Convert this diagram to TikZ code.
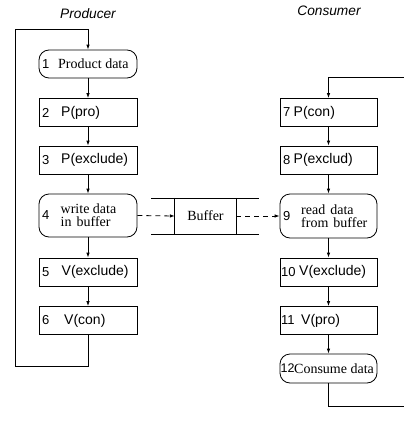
\documentclass[tikz,border=0pt]{standalone}
\usepackage{fontspec}
\setmainfont{Liberation Serif}
\setsansfont{Liberation Sans}
\usetikzlibrary{arrows.meta}
\begin{document}
\begin{tikzpicture}[x=1pt,y=-1pt,
  box/.style={draw,line width=0.8pt,minimum width=98pt,minimum height=28pt,inner sep=0},
  rbox/.style={box,rounded corners=10pt},
  num/.style={anchor=west,inner sep=0,font=\sffamily\fontsize{13}{14}\selectfont},
  stxt/.style={anchor=west,inner sep=0,font=\sffamily\fontsize{14}{14}\selectfont},
  rtxt/.style={anchor=west,inner sep=0,font=\fontsize{14}{13.3}\selectfont,align=left},
  arr/.style={line width=0.8pt,-{Latex[length=5pt,width=3.5pt]}},
  ln/.style={line width=0.8pt},
  dsh/.style={arr,dash pattern=on 5pt off 4pt},
  title/.style={font=\sffamily\itshape\fontsize{13.7}{14}\selectfont,inner sep=0}]
\useasboundingbox (0,0) rectangle (404,423);
\clip (0,0) rectangle (404,423);
% titles
\node[title] (tp) at (88,14) {Producer};
\node[title] (tc) at (329,11) {Consumer};
% producer boxes
\node[rbox] (n1) at (88,64) {};
\node[box] (n2) at (88,112.5) {};
\node[box] (n3) at (88,160) {};
\node[rbox,minimum height=43pt] (n4) at (88,215.5) {};
\node[box] (n5) at (88,272) {};
\node[box] (n6) at (88,320.5) {};
% consumer boxes
\node[box,minimum width=97pt] (n7) at (328.5,112.5) {};
\node[box,minimum width=97pt] (n8) at (328.5,160) {};
\node[rbox,minimum width=97pt,minimum height=44pt] (n9) at (328.5,216) {};
\node[box,minimum width=97pt] (n10) at (328.5,272) {};
\node[box,minimum width=97pt] (n11) at (328.5,320.5) {};
\node[rbox,minimum width=97pt,minimum height=29pt] (n12) at (328.5,368.5) {};
% texts producer
\node[num] (t1a) at (42,64) {1};
\node[rtxt] (t1b) at (58,64) {Product data};
\node[num] (t2a) at (42,112.5) {2};
\node[stxt] (t2b) at (61,112.5) {P(pro)};
\node[num] (t3a) at (42,160) {3};
\node[stxt] (t3b) at (61,160) {P(exclude)};
\node[num] (t4a) at (42,215.5) {4};
\node[rtxt] (t4b) at (60.5,215.5) {write data\\in\hspace{5pt}buffer};
\node[num] (t5a) at (42,272) {5};
\node[stxt] (t5b) at (61.5,272) {V(exclude)};
\node[num] (t6a) at (42,320.5) {6};
\node[stxt] (t6b) at (64,320.5) {V(con)};
% texts consumer
\node[num] (t7a) at (283,112.5) {7};
\node[stxt] (t7b) at (293.5,112.5) {P(con)};
\node[num] (t8a) at (283,160) {8};
\node[stxt] (t8b) at (293.5,160) {P(exclud)};
\node[num] (t9a) at (283,216) {9};
\node[rtxt] (t9b) at (301,216) {read\hspace{5pt}data\\from\hspace{5pt}buffer};
\node[num] (t10a) at (281,272) {10};
\node[stxt] (t10b) at (299,272) {V(exclude)};
\node[num] (t11a) at (281,320.5) {11};
\node[stxt] (t11b) at (301,320.5) {V(pro)};
\node[num,font=\sffamily\fontsize{12.5}{14}\selectfont] (t12a) at (280.5,368.5) {12};
\node[rtxt] (t12b) at (294,368.5) {Consume data};
% buffer
\node[inner sep=0,minimum width=61pt,minimum height=36pt,font=\fontsize{14}{14}\selectfont] (buf) at (205.5,216) {Buffer};
\draw[ln] (buf.north west) -- (buf.south west);
\draw[ln] (buf.north east) -- (buf.south east);
\coordinate (bt1) at (151,198);
\coordinate (bt2) at (259,198);
\coordinate (bb1) at (151,234);
\coordinate (bb2) at (259,234);
\draw[ln] (bt1) -- (bt2);
\draw[ln] (bb1) -- (bb2);
\draw[dsh] (n4.east) -- (buf.west);
\draw[dsh] (buf.east) -- (n9.west);
% producer chain
\draw[arr] (n1) -- (n2);
\draw[arr] (n2) -- (n3);
\draw[arr] (n3) -- (n4);
\draw[arr] (n4) -- (n5);
\draw[arr] (n5) -- (n6);
\coordinate (l1) at (88,366);
\coordinate (l2) at (15,366);
\coordinate (l3) at (15,29);
\coordinate (l4) at (88,29);
\draw[arr] (n6.south) -- (l1) -- (l2) -- (l3) -- (l4) -- (n1.north);
% consumer chain
\draw[arr] (n7) -- (n8);
\draw[arr] (n8) -- (n9);
\draw[arr] (n9) -- (n10);
\draw[arr] (n10) -- (n11);
\draw[arr] (n11) -- (n12);
\coordinate (r1) at (328.5,406);
\coordinate (r2) at (407,406);
\coordinate (r3) at (407,77);
\coordinate (r4) at (328.5,77);
\draw[arr] (n12.south) -- (r1) -- (r2) -- (r3) -- (r4) -- (n7.north);
\end{tikzpicture}
\end{document}
